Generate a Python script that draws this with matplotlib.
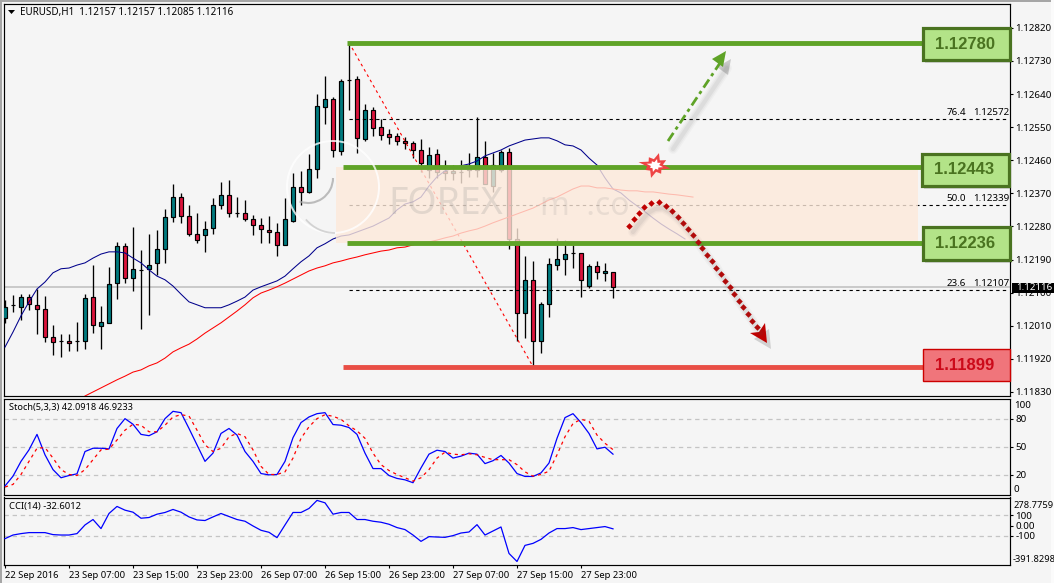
import numpy as np
import matplotlib
matplotlib.use("Agg")
import matplotlib.pyplot as plt
from matplotlib.patches import Rectangle, Polygon, Arc, Circle

plt.rcParams['font.family'] = ['Noto Sans', 'DejaVu Sans']

W, H = 1054, 583
BASE = 1.118
POINT = 1e-5

# Hourly candles, in points above BASE
opens = [231,266,261,288,266,255,179,168,168,168,168,288,209,217,326,427,340,362,364,381,
         419,506,560,508,460,457,476,538,566,517,517,500,484,470,465,430,495,587,574,636,
         805,827,685,878,881,718,797,751,732,726,712,707,688,634,677,631,625,628,634,634,
         669,590,634,683,446,245,334,168,269,375,392,408,408,318,372,353,357]
highs = [280,294,296,296,310,291,212,188,188,220,296,375,264,370,438,435,479,416,460,470,
         528,596,571,538,517,495,557,601,606,560,552,511,503,508,489,557,625,631,677,840,
         889,832,881,980,889,813,805,772,745,734,723,712,718,696,691,661,647,661,680,778,
         712,680,688,693,476,400,386,275,394,449,443,430,408,378,386,381,357]
lows = [217,247,226,253,188,166,130,125,141,141,147,190,147,217,283,326,304,201,239,348,
        381,492,489,454,435,411,460,528,506,506,495,457,435,435,400,430,492,538,571,612,
        759,669,674,797,680,712,726,715,704,702,691,666,628,612,612,606,606,598,615,615,
        596,574,628,419,168,177,99,136,234,362,348,367,288,313,337,332,285]
closes = [261,266,288,269,255,179,166,168,163,168,285,212,220,323,427,340,364,362,375,419,
          506,560,508,460,443,473,538,566,517,517,500,484,473,465,430,500,587,574,636,808,
          827,688,876,878,721,797,748,729,723,712,707,688,653,674,628,625,631,628,639,669,
          596,647,683,446,245,334,168,269,378,392,405,408,334,372,356,359,316]

# Moving averages, shifted forward past the last candle
blue_ma = [152,193,237,275,310,329,354,365,367,375,381,394,405,411,411,408,394,381,362,345,
           335,318,296,275,267,259,259,259,267,277,288,307,316,324,332,345,365,384,400,422,
           433,446,454,457,465,473,481,492,503,525,541,547,560,590,615,631,639,645,650,658,
           672,680,688,699,707,715,718,721,721,713,702,699,688,666,647,612,582,571,552,536,
           520,503,487,473,460,446]
red_ma_start = 10
red_ma = [19,30,41,52,63,73,84,90,101,109,122,139,150,160,174,190,204,218,234,250,
          267,286,299,307,316,326,337,348,359,367,373,381,386,392,397,403,408,413,416,422,
          424,430,435,438,443,449,454,462,468,473,481,490,498,506,514,522,530,541,552,560,
          571,582,590,590,585,585,582,579,577,577,574,574,571,568,566,563,560]

stoch_main = [8.1,18.6,34.4,46.7,63.2,41.4,25.6,16.9,19.3,21.1,44.9,48.4,48.4,47.7,69.5,80,74,63.2,61.8,66,
              80,87.8,86.4,69.5,52,34.4,43.2,64.2,69.5,62.5,44.9,34.4,21.4,20,20.4,34.4,59.7,75.8,81.8,85.3,
              86.4,73.7,73,70.5,63.2,43.2,26.7,26.7,19.3,16.2,14.7,11.6,27.4,42.1,46.3,44.9,37.9,40,43.2,42.1,
              32,35.1,40.7,32.6,21.4,18.3,18.3,22.1,32.6,59,81.1,85.3,75.8,64.2,47.7,49.5,42.0918]
stoch_signal = [7,9.8,20.4,34.4,48.4,49.1,37.9,25.6,20.4,19.3,25.6,36.2,46.7,47.4,57.2,67.7,74,73,66,66,
                73,81.8,84.2,82.8,67.7,52,44.9,48.4,60.7,64.2,60.7,46.7,29.1,20.4,20.4,23.2,37.9,59,71.3,80,
                84.2,82.5,79.3,72.3,67,59,43.2,30.9,24.6,20.4,16.9,13.3,16.9,25.6,37.9,44.2,42.1,41.4,42.5,41.4,
                38.6,36.2,36.2,36.2,30.9,23.2,18.6,20.4,23.9,41.4,60.7,74.8,79.3,77.2,62.5,53.7,46.9233]
cci = [-130,-94,-80,-70,-70,-70,-90,-94,-94,-80,6,60,-30,120,190,153,133,73,80,113,
       130,160,133,86,56,50,86,120,90,60,43,-4,-47,-67,-120,6,130,130,170,250,
       226,113,130,130,60,60,43,33,13,-20,-40,-94,-157,-110,-114,-117,-100,-74,-64,9,
       -94,-54,-14,-277,-357,-197,-177,-137,-74,-30,-30,-20,-40,-30,-20,-10,-32.6012]

price_ticks = [1.12820,1.12730,1.12640,1.12550,1.12460,1.12370,1.12280,1.12190,1.12100,1.12010,1.11920,1.11830]
time_labels = ["22 Sep 2016","23 Sep 07:00","23 Sep 15:00","23 Sep 23:00","26 Sep 07:00",
               "26 Sep 15:00","26 Sep 23:00","27 Sep 07:00","27 Sep 15:00","27 Sep 23:00"]
time_ticks = [0,8,16,24,32,40,48,56,64,72]

resistance_high = 1.12780
resistance_mid = 1.12443
support_mid = 1.12236
support_low = 1.11899
last_price = 1.12116
fib_levels = [(76.4, 1.12572), (50.0, 1.12339), (23.6, 1.12107)]
swing_high_bar, swing_low_bar = 43, 66

BG = "#f5f5f5"
TEAL = "#007b7f"
CRIMSON = "#dc143c"
LEVEL_GREEN = "#5fa327"
LEVEL_RED = "#e94e45"
FS = 7.05


def frame(left, top, right, bottom):
    return [left / W, 1 - bottom / H, (right - left) / W, (bottom - top) / H]


def bar_at(px):
    return (px - 5) / 8


fig = plt.figure(figsize=(W / 100, H / 100), dpi=100, facecolor=BG)
ax = fig.add_axes(frame(4, 4, 1010, 396), facecolor=BG)
ax_st = fig.add_axes(frame(4, 398.5, 1010, 495), facecolor=BG, sharex=ax)
ax_cc = fig.add_axes(frame(4, 497.5, 1010, 565), facecolor=BG, sharex=ax)

for a in (ax, ax_st, ax_cc):
    a.yaxis.tick_right()
    a.tick_params(axis='y', length=2.5, width=0.8, pad=1.5, labelsize=FS, colors='black')
    for s in a.spines.values():
        s.set_linewidth(0.85)
        s.set_color('black')
ax.set_xlim(bar_at(4), bar_at(1010))

# Price panel
to_price = lambda seq: BASE + np.asarray(seq, dtype=float) * POINT
o, h, l, c = map(to_price, (opens, highs, lows, closes))
idx = np.arange(len(o))
ax.set_ylim(BASE + 19 * POINT, BASE + 1085 * POINT)
ax.set_yticks(price_ticks)
ax.set_yticklabels([f"{t:.5f}" for t in price_ticks])
ax.tick_params(axis='x', length=0, labelbottom=False)

ax.axhline(last_price, color="#bdbdbd", lw=1.1, zorder=1)
ax.vlines(idx, l, h, color='black', lw=0.95, zorder=3)
up = c >= o
body_colors = [TEAL if u else CRIMSON for u in up]
ax.bar(idx, np.abs(c - o), bottom=np.minimum(o, c), width=0.52, color=body_colors,
       edgecolor='black', linewidth=0.85, zorder=3.2)

ax.plot(np.arange(len(blue_ma)), to_price(blue_ma), color="#00008b", lw=0.75, zorder=4)
ax.plot(np.arange(len(red_ma)) + red_ma_start, to_price(red_ma), color="#ff0000", lw=0.75, zorder=4)
ax.plot([swing_high_bar, swing_low_bar], [h[swing_high_bar], l[swing_low_bar]],
        color="#ff0000", lw=0.8, ls=(0, (2.5, 3)), zorder=4)

for pct, level in fib_levels:
    ax.plot([swing_high_bar, bar_at(1007)], [level, level], color='black', lw=0.8,
            ls=(0, (3, 3)), zorder=4)
    ax.annotate(f"{pct:.1f}", (bar_at(966), level), xytext=(0, 1.5), textcoords='offset points',
                ha='right', va='bottom', fontsize=FS, zorder=9)
    ax.annotate(f"{level:.5f}", (bar_at(1009), level), xytext=(0, 1.5), textcoords='offset points',
                ha='right', va='bottom', fontsize=FS, zorder=9)

# Shaded decision zone between the two middle levels
ax.fill_between([bar_at(336), bar_at(918)], support_mid, resistance_mid,
                color="#fde9da", alpha=0.8, lw=0, zorder=5)

# Watermark
ax.text(bar_at(388), 1.12290, "FOREX", fontsize=27, color="#8c8c8c", alpha=0.22,
        fontweight='light', zorder=5.5, va='bottom')
ax.text(bar_at(540), 1.12290, "m  .co", fontsize=23, color="#8c8c8c", alpha=0.16,
        zorder=5.5, va='bottom')

for level, x0, col in ((resistance_high, 347, LEVEL_GREEN), (resistance_mid, 343, LEVEL_GREEN),
                       (support_mid, 347, LEVEL_GREEN), (support_low, 343, LEVEL_RED)):
    ax.plot([bar_at(x0), bar_at(925)], [level, level], color=col, lw=3.5,
            solid_capstyle='butt', zorder=6)

# Stochastic panel
ax_st.set_ylim(-1.5, 101.5)
ax_st.set_yticks([20, 50, 80])
ax_st.set_yticklabels(["20", "50", "80"])
ax_st.tick_params(axis='x', length=0, labelbottom=False)
for lv in (20, 50, 80):
    ax_st.axhline(lv, color="#c4c4c4", lw=0.9, ls=(0, (3.5, 3)), zorder=1)
ax_st.plot(np.arange(len(stoch_main)), stoch_main, color="#0000ff", lw=0.9, zorder=3)
ax_st.plot(np.arange(len(stoch_signal)), stoch_signal, color="#ff0000", lw=0.9,
           ls=(0, (2.5, 3)), zorder=3)

# CCI panel
ax_cc.set_ylim(-391.8298, 278.7759)
ax_cc.set_yticks([100, 0, -100])
ax_cc.set_yticklabels(["100", "0.00", "-100"])
for lv in (100, -100):
    ax_cc.axhline(lv, color="#c4c4c4", lw=0.9, ls=(0, (3.5, 3)), zorder=1)
ax_cc.plot(np.arange(len(cci)), cci, color="#0000ff", lw=0.9, zorder=3)
ax_cc.set_xticks(time_ticks)
ax_cc.set_xticklabels(time_labels, ha='left', fontsize=6.75)
ax_cc.tick_params(axis='x', length=2.5, width=0.8, pad=2)

# Annotation layer measured in figure pixels
ov = fig.add_axes([0, 0, 1, 1], facecolor='none', zorder=10)
ov.set_xlim(0, W)
ov.set_ylim(H, 0)
ov.axis('off')

ov.add_patch(Rectangle((0, 0), W, 1.5, color="#a6a6a6", lw=0))
ov.add_patch(Rectangle((0, 0), 2, H, color="#a6a6a6", lw=0))
ov.add_patch(Rectangle((1051, 0), 3, H, color="#fbfbfb", lw=0))

ov.add_patch(Polygon([(8, 10), (15, 10), (11.5, 14)], color='black', lw=0))
ov.text(20, 12.5, "EURUSD,H1  1.12157 1.12157 1.12085 1.12116", fontsize=7.1, va='center')
ov.text(9, 407.5, "Stoch(5,3,3) 42.0918 46.9233", fontsize=6.6, va='center')
ov.text(9, 506.5, "CCI(14) -32.6012", fontsize=6.8, va='center')
ov.text(1014, 406, "100", fontsize=FS, va='center')
ov.text(1014, 489, "0", fontsize=FS, va='center')
ov.text(1013.5, 505, "278.7759", fontsize=6.7, va='center')
ov.text(1012.5, 559, "-391.8298", fontsize=6.7, va='center')

ov.add_patch(Rectangle((1012, 282.5), 42, 10, color='black', lw=0))
ov.text(1016, 287.5, f"{last_price:.5f}", color='white', fontsize=FS, va='center')

# Level tags
tags = [(resistance_high, 923, 27.5, 87, 32.5), (resistance_mid, 922, 153.5, 87, 32),
        (support_mid, 923, 227, 87, 32.5)]
for level, x, y, bw, bh in tags:
    ov.add_patch(Rectangle((x + 2, y + 3), bw, bh, color="#000000", alpha=0.14, lw=0))
    ov.add_patch(Rectangle((x, y), bw, bh, facecolor="#b3e388", edgecolor="#4a7320", lw=2.3))
    ov.text(x + bw / 2 - 1, y + bh / 2 + 0.5, f"{level:.5f}", color="#4a7320", fontsize=12,
            fontweight='bold', family='Liberation Sans', ha='center', va='center')
ov.add_patch(Rectangle((923, 349), 86.5, 31.5, facecolor="#f0757b", edgecolor="#cc0000", lw=1))
ov.text(965, 365, f"{support_low:.5f}", color="#cc0a1a", fontsize=12, fontweight='bold',
        family='Liberation Sans', ha='center', va='center')

# Logo rings behind the watermark
ov.add_patch(Circle((333, 187), 46, fill=False, ec="white", lw=1.4, alpha=0.8))
ov.add_patch(Arc((308, 178), 50, 50, theta1=0, theta2=110, ec="#a8a8a8", lw=1.5, alpha=0.75))
ov.add_patch(Arc((335, 195), 76, 76, theta1=90, theta2=140, ec="#c0c0c0", lw=1.3, alpha=0.65))

# Soft shadows: stacked translucent strokes
def soft_stroke(xs, ys, **kw):
    for width, alpha in ((7, 0.035), (5, 0.05), (3, 0.07)):
        ov.plot(xs, ys, color="#555555", lw=width, alpha=alpha, solid_capstyle='round', **kw)


# Breakout scenario: dash-dot arrow up
ox, oy = 5, 8
soft_stroke([668 + ox, 722 + ox], [141 + oy, 60 + oy])
ov.add_patch(Polygon([(726 + ox, 51 + oy), (712 + ox, 59 + oy), (723 + ox, 67 + oy)],
                     color="#666666", alpha=0.3, lw=0))
ov.plot([668, 720], [141, 63], color=LEVEL_GREEN, lw=2.0, ls=(0, (3.5, 1.5, 1.2, 1.5)))
ov.add_patch(Polygon([(726, 51), (712, 59), (723, 67)], color=LEVEL_GREEN, lw=0))

# Burst where the price tests the upper level
burst_r = [16, 8, 12, 8, 16, 8, 11, 8, 17, 8, 12, 8, 16, 8, 13, 8]
ang = np.linspace(0, 2 * np.pi, len(burst_r), endpoint=False) + 0.25
bx = 655 + np.array(burst_r) * np.cos(ang)
by = 165.5 + np.array(burst_r) * np.sin(ang) * 0.8
ov.add_patch(Polygon(np.column_stack([bx, by]), color="#ee4444", lw=0))
ov.add_patch(Polygon(np.column_stack([655 + (bx - 655) * 0.52, 165.5 + (by - 165.5) * 0.52]),
                     color="white", lw=0))

# Rejection scenario: dotted curve down
dots_x = [629,634,639,644,651,659,666,672,678,683,688,693,698,702,707,712,716,721,725,730,734,739,743,748,752,757]
dots_y = [226,219,213,207,203,202,206,211,217,223,229,235,242,248,255,261,268,274,281,287,294,301,307,314,321,327]
soft_stroke(np.array(dots_x) + 4, np.array(dots_y) + 6)
ov.add_patch(Polygon([(771, 349), (754, 339), (769, 329)], color="#666666", alpha=0.25, lw=0))
ov.scatter(dots_x, dots_y, s=11, marker='D', color="#c00000", lw=0)
ov.add_patch(Polygon([(767, 343), (750, 333), (759, 332), (765, 323)], color="#c00000", lw=0))

fig.savefig("out.png", dpi=100, facecolor=fig.get_facecolor())
